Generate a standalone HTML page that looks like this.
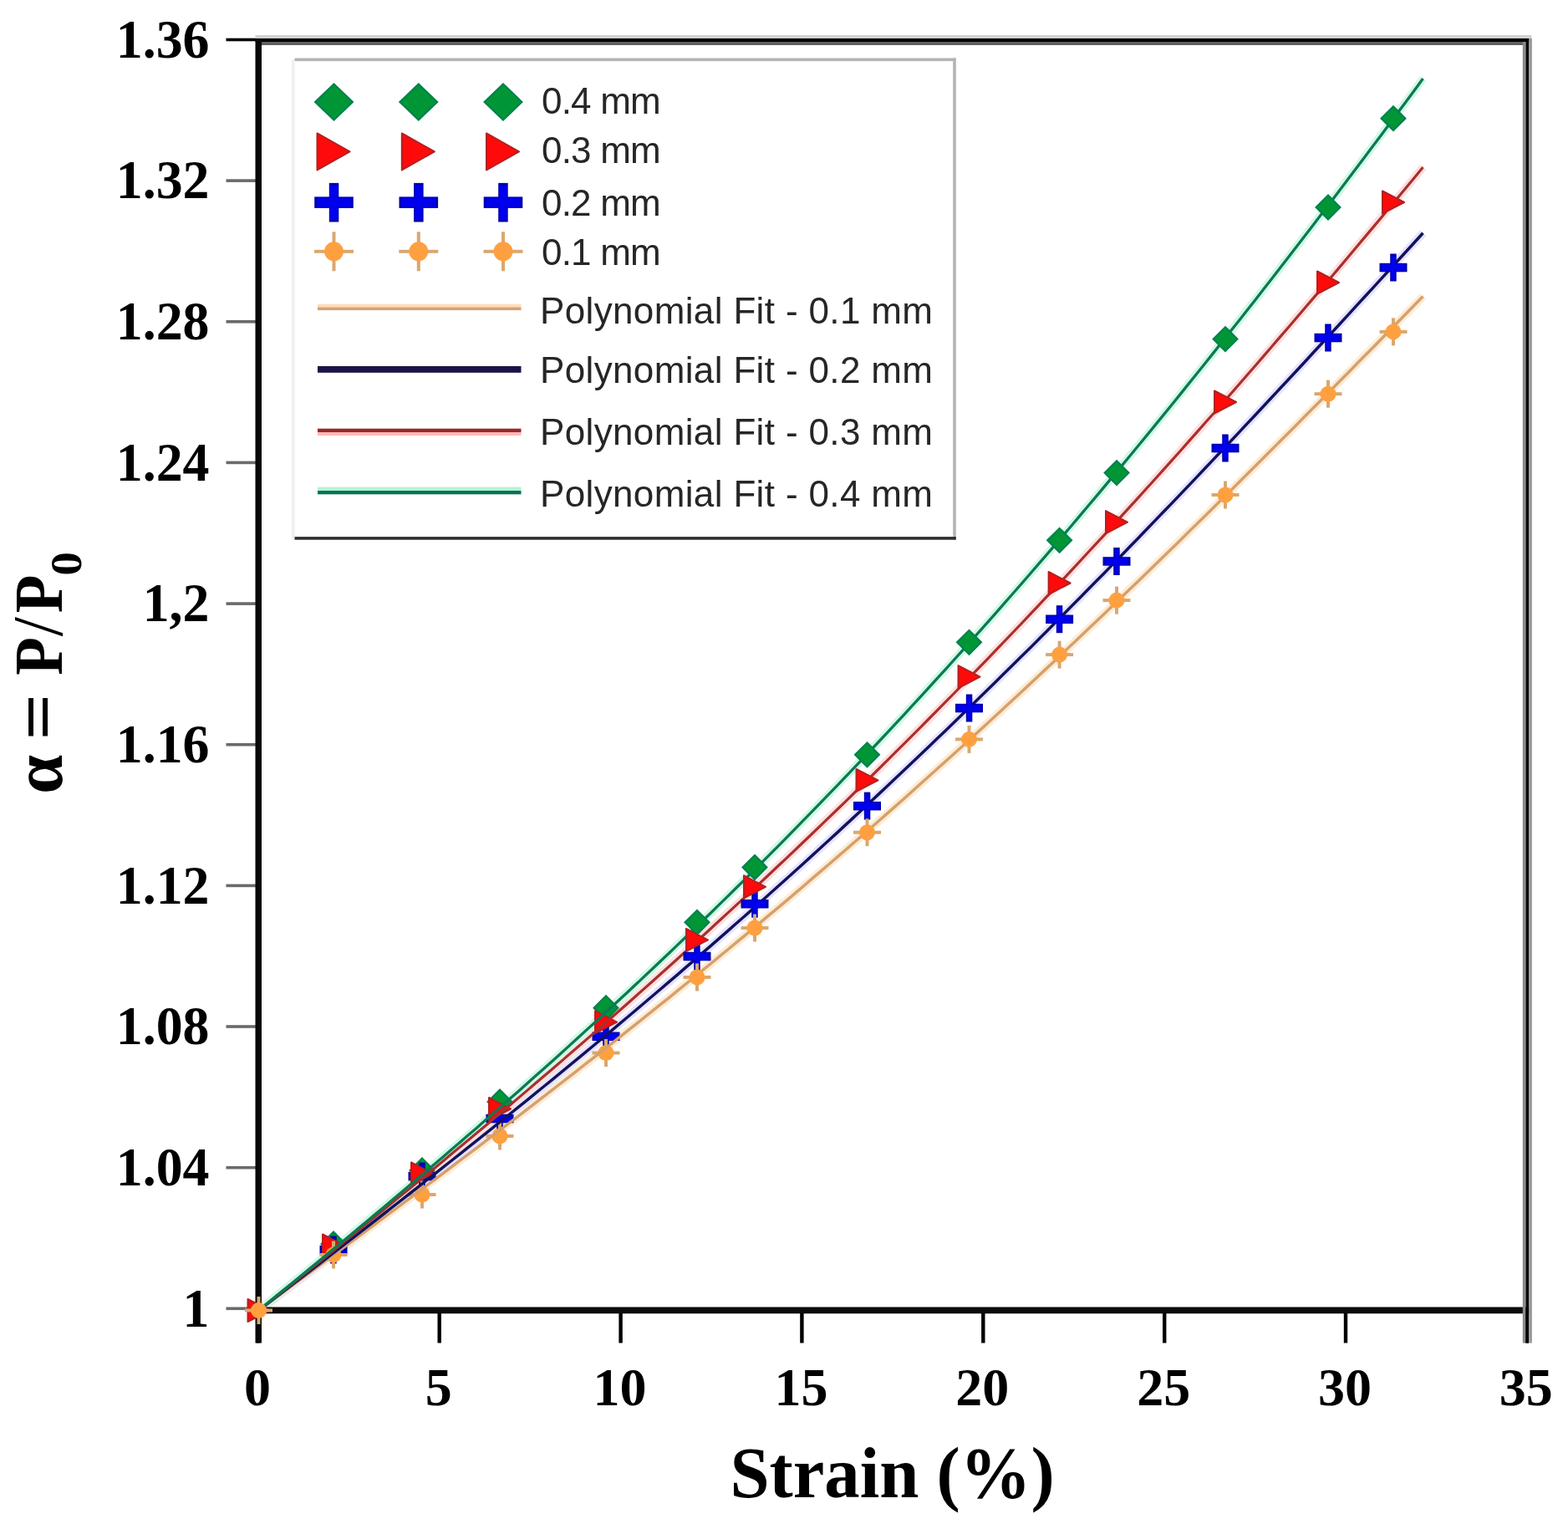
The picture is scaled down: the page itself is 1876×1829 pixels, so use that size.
<!DOCTYPE html>
<html><head><meta charset="utf-8"><title>Chart</title>
<style>html,body{margin:0;padding:0;background:#fff;overflow:hidden}svg{display:block}</style>
</head><body>
<svg width="1876" height="1829" viewBox="0 0 1876 1829"><rect width="1876" height="1829" fill="#fff"/>
<rect x="270.5" y="1563.5" width="36" height="3.6" fill="#6a6a6a"/>
<rect x="270.5" y="1394.9" width="36" height="3.6" fill="#6a6a6a"/>
<rect x="270.5" y="1226.2" width="36" height="3.6" fill="#6a6a6a"/>
<rect x="270.5" y="1057.6" width="36" height="3.6" fill="#6a6a6a"/>
<rect x="270.5" y="888.9" width="36" height="3.6" fill="#6a6a6a"/>
<rect x="270.5" y="720.3" width="36" height="3.6" fill="#6a6a6a"/>
<rect x="270.5" y="551.6" width="36" height="3.6" fill="#6a6a6a"/>
<rect x="270.5" y="383.0" width="36" height="3.6" fill="#6a6a6a"/>
<rect x="270.5" y="214.3" width="36" height="3.6" fill="#6a6a6a"/>
<rect x="270.5" y="45.7" width="36" height="3.6" fill="#000"/>
<rect x="306.7" y="1568" width="4.4" height="38.5" fill="#000"/>
<rect x="523.5" y="1568" width="4.4" height="38.5" fill="#000"/>
<rect x="740.4" y="1568" width="4.4" height="38.5" fill="#000"/>
<rect x="957.2" y="1568" width="4.4" height="38.5" fill="#000"/>
<rect x="1174.1" y="1568" width="4.4" height="38.5" fill="#000"/>
<rect x="1391.0" y="1568" width="4.4" height="38.5" fill="#000"/>
<rect x="1607.8" y="1568" width="4.4" height="38.5" fill="#000"/>
<rect x="1824.6" y="1568" width="4.4" height="38.5" fill="#000"/>
<g font-family="Liberation Serif, serif" font-weight="bold" font-size="64" fill="#000">
<text transform="translate(250.5,1586.5) scale(0.975,1)" font-size="65.5" text-anchor="end">1</text>
<text transform="translate(250.5,1417.9) scale(0.975,1)" font-size="65.5" text-anchor="end">1.04</text>
<text transform="translate(250.5,1249.2) scale(0.975,1)" font-size="65.5" text-anchor="end">1.08</text>
<text transform="translate(250.5,1080.6) scale(0.975,1)" font-size="65.5" text-anchor="end">1.12</text>
<text transform="translate(250.5,911.9) scale(0.975,1)" font-size="65.5" text-anchor="end">1.16</text>
<text transform="translate(250.5,743.3) scale(0.975,1)" font-size="65.5" text-anchor="end">1,2</text>
<text transform="translate(250.5,574.6) scale(0.975,1)" font-size="65.5" text-anchor="end">1.24</text>
<text transform="translate(250.5,406.0) scale(0.975,1)" font-size="65.5" text-anchor="end">1.28</text>
<text transform="translate(250.5,237.3) scale(0.975,1)" font-size="65.5" text-anchor="end">1.32</text>
<text transform="translate(250.5,68.7) scale(0.975,1)" font-size="65.5" text-anchor="end">1.36</text>
<text x="307.9" y="1681" text-anchor="middle">0</text>
<text x="524.8" y="1681" text-anchor="middle">5</text>
<text x="741.6" y="1681" text-anchor="middle">10</text>
<text x="958.4" y="1681" text-anchor="middle">15</text>
<text x="1175.3" y="1681" text-anchor="middle">20</text>
<text x="1392.2" y="1681" text-anchor="middle">25</text>
<text x="1609.0" y="1681" text-anchor="middle">30</text>
<text x="1825.8" y="1681" text-anchor="middle">35</text>
</g>
<text transform="translate(1067.5,1790.5) scale(0.985,1)" text-anchor="middle" font-family="Liberation Serif, serif" font-weight="bold" font-size="86">Strain (%)</text>
<g transform="translate(74.4,0) rotate(-90)" font-family="Liberation Serif, serif" font-weight="bold" text-anchor="middle">
<text transform="translate(-926.2,0)" font-size="84">α</text>
<text transform="translate(-857.6,0) scale(1.17,1)" font-size="84">=</text>
<text transform="translate(-785,0) scale(0.91,1)" font-size="82">P</text>
<text transform="translate(-749.7,0)" font-size="84" font-weight="normal">/</text>
<text transform="translate(-710.4,0) scale(0.91,1)" font-size="82">P</text>
<text transform="translate(-674.4,23) scale(1.1,1)" font-size="52">0</text>
</g>
<rect x="351" y="71.5" width="790.5" height="572.5" fill="#fff"/>
<rect x="349" y="71.5" width="3.5" height="574" fill="#efefef"/>
<rect x="352.5" y="69.5" width="791" height="3.6" fill="#b4b4b4"/>
<rect x="1140.2" y="69.5" width="3.6" height="576" fill="#b4b4b4"/>
<rect x="352.5" y="642.1" width="791.3" height="3.6" fill="#2e2e2e"/>
<path d="M377.0 122.0L399.5 100.5L422.0 122.0L399.5 143.5Z" fill="#009535" stroke="#00804f" stroke-width="2"/>
<path d="M478.3 122.0L500.8 100.5L523.3 122.0L500.8 143.5Z" fill="#009535" stroke="#00804f" stroke-width="2"/>
<path d="M579.5 122.0L602.0 100.5L624.5 122.0L602.0 143.5Z" fill="#009535" stroke="#00804f" stroke-width="2"/>
<path d="M379.5 159.4L418.5 181.4L379.5 203.4Z" fill="#ff0a0a" stroke="#b42020" stroke-width="2" stroke-linejoin="round"/>
<path d="M480.8 159.4L519.8 181.4L480.8 203.4Z" fill="#ff0a0a" stroke="#b42020" stroke-width="2" stroke-linejoin="round"/>
<path d="M582.0 159.4L621.0 181.4L582.0 203.4Z" fill="#ff0a0a" stroke="#b42020" stroke-width="2" stroke-linejoin="round"/>
<rect x="393.8" y="218.9" width="11.5" height="46.6" fill="#0000b0"/><rect x="376.2" y="235.4" width="46.6" height="13.5" fill="#0000b0"/><rect x="395.2" y="221.9" width="8.5" height="40.6" fill="#0000ee"/><rect x="379.2" y="236.9" width="40.6" height="10.5" fill="#0000ee"/>
<rect x="495.1" y="218.9" width="11.5" height="46.6" fill="#0000b0"/><rect x="477.5" y="235.4" width="46.6" height="13.5" fill="#0000b0"/><rect x="496.6" y="221.9" width="8.5" height="40.6" fill="#0000ee"/><rect x="480.5" y="236.9" width="40.6" height="10.5" fill="#0000ee"/>
<rect x="596.2" y="218.9" width="11.5" height="46.6" fill="#0000b0"/><rect x="578.7" y="235.4" width="46.6" height="13.5" fill="#0000b0"/><rect x="597.8" y="221.9" width="8.5" height="40.6" fill="#0000ee"/><rect x="581.7" y="236.9" width="40.6" height="10.5" fill="#0000ee"/>
<rect x="397.5" y="277.3" width="4" height="47.0" fill="#d8a870"/><rect x="376.0" y="298.8" width="47.0" height="4" fill="#d8a870"/><circle cx="399.5" cy="300.8" r="11.5" fill="#ffa040"/>
<rect x="498.8" y="277.3" width="4" height="47.0" fill="#d8a870"/><rect x="477.3" y="298.8" width="47.0" height="4" fill="#d8a870"/><circle cx="500.8" cy="300.8" r="11.5" fill="#ffa040"/>
<rect x="600.0" y="277.3" width="4" height="47.0" fill="#d8a870"/><rect x="578.5" y="298.8" width="47.0" height="4" fill="#d8a870"/><circle cx="602.0" cy="300.8" r="11.5" fill="#ffa040"/>
<g font-family="Liberation Sans, sans-serif" font-size="44" fill="#262626">
<text x="648" y="136.0" letter-spacing="-0.8">0.4 mm</text>
<text x="648" y="195.0" letter-spacing="-0.8">0.3 mm</text>
<text x="648" y="257.5" letter-spacing="-0.8">0.2 mm</text>
<text x="648" y="316.5" letter-spacing="-0.8">0.1 mm</text>
<text x="646" y="386.5" textLength="470" lengthAdjust="spacing">Polynomial Fit - 0.1 mm</text>
<text x="646" y="458" textLength="470" lengthAdjust="spacing">Polynomial Fit - 0.2 mm</text>
<text x="646" y="532" textLength="470" lengthAdjust="spacing">Polynomial Fit - 0.3 mm</text>
<text x="646" y="606" textLength="470" lengthAdjust="spacing">Polynomial Fit - 0.4 mm</text>
</g>
<rect x="380" y="363.7" width="243.5" height="3.8" fill="#fddcb8"/><rect x="380" y="367.5" width="243.5" height="3.6" fill="#d2a276"/>
<rect x="380" y="438" width="243.5" height="7.8" fill="#1a1448"/>
<rect x="380" y="512.7" width="243.5" height="4.3" fill="#962a2a"/><rect x="380" y="517" width="243.5" height="4" fill="#ffb8b8"/>
<rect x="380" y="582.6" width="243.5" height="4.4" fill="#b4f2d4"/><rect x="380" y="587" width="243.5" height="4.3" fill="#077352"/>
<polyline points="309.5,1567.5 319.5,1560.1 329.5,1552.7 339.6,1545.3 349.6,1537.9 359.6,1530.4 369.6,1523.0 379.7,1515.6 389.7,1508.2 399.7,1500.7 409.7,1493.3 419.7,1485.9 429.8,1478.4 439.8,1471.0 449.8,1463.5 459.8,1456.1 469.8,1448.6 479.9,1441.1 489.9,1433.6 499.9,1426.1 509.9,1418.6 520.0,1411.1 530.0,1403.6 540.0,1396.0 550.0,1388.4 560.0,1380.9 570.1,1373.3 580.1,1365.7 590.1,1358.0 600.1,1350.4 610.1,1342.7 620.2,1335.1 630.2,1327.4 640.2,1319.6 650.2,1311.9 660.3,1304.2 670.3,1296.4 680.3,1288.6 690.3,1280.8 700.3,1272.9 710.4,1265.1 720.4,1257.2 730.4,1249.3 740.4,1241.4 750.4,1233.4 760.5,1225.4 770.5,1217.4 780.5,1209.4 790.5,1201.3 800.6,1193.3 810.6,1185.2 820.6,1177.0 830.6,1168.9 840.6,1160.7 850.7,1152.5 860.7,1144.2 870.7,1136.0 880.7,1127.7 890.8,1119.4 900.8,1111.0 910.8,1102.6 920.8,1094.2 930.8,1085.8 940.9,1077.3 950.9,1068.8 960.9,1060.3 970.9,1051.7 980.9,1043.2 991.0,1034.5 1001.0,1025.9 1011.0,1017.2 1021.0,1008.5 1031.1,999.8 1041.1,991.0 1051.1,982.2 1061.1,973.4 1071.1,964.6 1081.2,955.7 1091.2,946.8 1101.2,937.8 1111.2,928.8 1121.2,919.8 1131.3,910.8 1141.3,901.7 1151.3,892.7 1161.3,883.5 1171.4,874.4 1181.4,865.2 1191.4,856.0 1201.4,846.8 1211.4,837.5 1221.5,828.2 1231.5,818.9 1241.5,809.5 1251.5,800.1 1261.6,790.7 1271.6,781.3 1281.6,771.8 1291.6,762.3 1301.6,752.8 1311.7,743.3 1321.7,733.7 1331.7,724.1 1341.7,714.5 1351.7,704.8 1361.8,695.2 1371.8,685.5 1381.8,675.7 1391.8,666.0 1401.9,656.2 1411.9,646.4 1421.9,636.6 1431.9,626.8 1441.9,616.9 1452.0,607.0 1462.0,597.1 1472.0,587.2 1482.0,577.3 1492.0,567.3 1502.1,557.3 1512.1,547.3 1522.1,537.3 1532.1,527.3 1542.2,517.2 1552.2,507.2 1562.2,497.1 1572.2,487.0 1582.2,476.9 1592.3,466.7 1602.3,456.6 1612.3,446.4 1622.3,436.3 1632.3,426.1 1642.4,415.9 1652.4,405.7 1662.4,395.5 1672.4,385.3 1682.5,375.1 1692.5,364.8 1702.5,354.6" fill="none" stroke="#fdecd6" stroke-width="10" stroke-linejoin="round"/>
<polyline points="309.5,1567.5 319.5,1559.8 329.5,1552.1 339.6,1544.4 349.6,1536.7 359.6,1529.0 369.6,1521.3 379.7,1513.6 389.7,1505.8 399.7,1498.1 409.7,1490.4 419.7,1482.6 429.8,1474.8 439.8,1467.1 449.8,1459.3 459.8,1451.5 469.8,1443.7 479.9,1435.8 489.9,1428.0 499.9,1420.1 509.9,1412.2 520.0,1404.4 530.0,1396.4 540.0,1388.5 550.0,1380.6 560.0,1372.6 570.1,1364.6 580.1,1356.6 590.1,1348.6 600.1,1340.5 610.1,1332.5 620.2,1324.4 630.2,1316.3 640.2,1308.1 650.2,1300.0 660.3,1291.8 670.3,1283.6 680.3,1275.4 690.3,1267.1 700.3,1258.8 710.4,1250.5 720.4,1242.2 730.4,1233.8 740.4,1225.4 750.4,1217.0 760.5,1208.5 770.5,1200.0 780.5,1191.5 790.5,1183.0 800.6,1174.4 810.6,1165.8 820.6,1157.2 830.6,1148.6 840.6,1139.9 850.7,1131.2 860.7,1122.4 870.7,1113.6 880.7,1104.8 890.8,1096.0 900.8,1087.1 910.8,1078.2 920.8,1069.3 930.8,1060.3 940.9,1051.3 950.9,1042.3 960.9,1033.2 970.9,1024.1 980.9,1015.0 991.0,1005.8 1001.0,996.6 1011.0,987.4 1021.0,978.1 1031.1,968.8 1041.1,959.5 1051.1,950.1 1061.1,940.7 1071.1,931.3 1081.2,921.8 1091.2,912.3 1101.2,902.8 1111.2,893.2 1121.2,883.6 1131.3,874.0 1141.3,864.3 1151.3,854.6 1161.3,844.9 1171.4,835.1 1181.4,825.3 1191.4,815.5 1201.4,805.6 1211.4,795.7 1221.5,785.8 1231.5,775.9 1241.5,765.9 1251.5,755.9 1261.6,745.8 1271.6,735.7 1281.6,725.6 1291.6,715.5 1301.6,705.3 1311.7,695.1 1321.7,684.9 1331.7,674.6 1341.7,664.4 1351.7,654.0 1361.8,643.7 1371.8,633.3 1381.8,622.9 1391.8,612.5 1401.9,602.1 1411.9,591.6 1421.9,581.1 1431.9,570.6 1441.9,560.0 1452.0,549.4 1462.0,538.8 1472.0,528.2 1482.0,517.6 1492.0,506.9 1502.1,496.2 1512.1,485.5 1522.1,474.8 1532.1,464.0 1542.2,453.3 1552.2,442.5 1562.2,431.7 1572.2,420.8 1582.2,410.0 1592.3,399.1 1602.3,388.2 1612.3,377.4 1622.3,366.4 1632.3,355.5 1642.4,344.6 1652.4,333.6 1662.4,322.7 1672.4,311.7 1682.5,300.7 1692.5,289.7 1702.5,278.7" fill="none" stroke="#e6e4ff" stroke-width="10" stroke-linejoin="round"/>
<polyline points="309.5,1567.5 319.5,1559.5 329.5,1551.5 339.6,1543.5 349.6,1535.5 359.6,1527.5 369.6,1519.4 379.7,1511.4 389.7,1503.3 399.7,1495.2 409.7,1487.1 419.7,1479.0 429.8,1470.9 439.8,1462.8 449.8,1454.7 459.8,1446.5 469.8,1438.3 479.9,1430.1 489.9,1421.9 499.9,1413.7 509.9,1405.5 520.0,1397.2 530.0,1388.9 540.0,1380.6 550.0,1372.3 560.0,1363.9 570.1,1355.6 580.1,1347.2 590.1,1338.8 600.1,1330.3 610.1,1321.9 620.2,1313.4 630.2,1304.9 640.2,1296.3 650.2,1287.8 660.3,1279.2 670.3,1270.6 680.3,1261.9 690.3,1253.3 700.3,1244.6 710.4,1235.9 720.4,1227.1 730.4,1218.3 740.4,1209.5 750.4,1200.7 760.5,1191.8 770.5,1182.9 780.5,1174.0 790.5,1165.0 800.6,1156.0 810.6,1147.0 820.6,1137.9 830.6,1128.8 840.6,1119.7 850.7,1110.5 860.7,1101.3 870.7,1092.1 880.7,1082.9 890.8,1073.6 900.8,1064.2 910.8,1054.9 920.8,1045.5 930.8,1036.0 940.9,1026.6 950.9,1017.1 960.9,1007.5 970.9,998.0 980.9,988.3 991.0,978.7 1001.0,969.0 1011.0,959.3 1021.0,949.5 1031.1,939.7 1041.1,929.9 1051.1,920.0 1061.1,910.1 1071.1,900.2 1081.2,890.2 1091.2,880.2 1101.2,870.1 1111.2,860.0 1121.2,849.9 1131.3,839.7 1141.3,829.5 1151.3,819.3 1161.3,809.0 1171.4,798.7 1181.4,788.3 1191.4,777.9 1201.4,767.5 1211.4,757.0 1221.5,746.5 1231.5,735.9 1241.5,725.4 1251.5,714.7 1261.6,704.1 1271.6,693.4 1281.6,682.6 1291.6,671.9 1301.6,661.0 1311.7,650.2 1321.7,639.3 1331.7,628.4 1341.7,617.4 1351.7,606.4 1361.8,595.4 1371.8,584.3 1381.8,573.2 1391.8,562.1 1401.9,550.9 1411.9,539.7 1421.9,528.4 1431.9,517.1 1441.9,505.8 1452.0,494.5 1462.0,483.1 1472.0,471.7 1482.0,460.2 1492.0,448.7 1502.1,437.2 1512.1,425.6 1522.1,414.0 1532.1,402.4 1542.2,390.7 1552.2,379.0 1562.2,367.3 1572.2,355.6 1582.2,343.8 1592.3,332.0 1602.3,320.1 1612.3,308.2 1622.3,296.3 1632.3,284.4 1642.4,272.4 1652.4,260.4 1662.4,248.4 1672.4,236.4 1682.5,224.3 1692.5,212.2 1702.5,200.0" fill="none" stroke="#fde0e0" stroke-width="10" stroke-linejoin="round"/>
<polyline points="309.5,1567.4 319.5,1559.3 329.5,1551.1 339.6,1542.9 349.6,1534.7 359.6,1526.5 369.6,1518.3 379.7,1510.0 389.7,1501.8 399.7,1493.5 409.7,1485.2 419.7,1476.9 429.8,1468.6 439.8,1460.2 449.8,1451.8 459.8,1443.4 469.8,1435.0 479.9,1426.6 489.9,1418.1 499.9,1409.6 509.9,1401.1 520.0,1392.5 530.0,1383.9 540.0,1375.3 550.0,1366.7 560.0,1358.0 570.1,1349.4 580.1,1340.6 590.1,1331.9 600.1,1323.1 610.1,1314.3 620.2,1305.4 630.2,1296.5 640.2,1287.6 650.2,1278.7 660.3,1269.7 670.3,1260.7 680.3,1251.6 690.3,1242.5 700.3,1233.4 710.4,1224.2 720.4,1215.0 730.4,1205.8 740.4,1196.5 750.4,1187.2 760.5,1177.8 770.5,1168.4 780.5,1159.0 790.5,1149.5 800.6,1140.0 810.6,1130.4 820.6,1120.8 830.6,1111.2 840.6,1101.5 850.7,1091.7 860.7,1081.9 870.7,1072.1 880.7,1062.3 890.8,1052.3 900.8,1042.4 910.8,1032.4 920.8,1022.3 930.8,1012.3 940.9,1002.1 950.9,991.9 960.9,981.7 970.9,971.4 980.9,961.1 991.0,950.7 1001.0,940.3 1011.0,929.9 1021.0,919.4 1031.1,908.8 1041.1,898.2 1051.1,887.5 1061.1,876.8 1071.1,866.1 1081.2,855.3 1091.2,844.4 1101.2,833.6 1111.2,822.6 1121.2,811.6 1131.3,800.6 1141.3,789.5 1151.3,778.4 1161.3,767.2 1171.4,755.9 1181.4,744.7 1191.4,733.3 1201.4,721.9 1211.4,710.5 1221.5,699.0 1231.5,687.5 1241.5,675.9 1251.5,664.3 1261.6,652.7 1271.6,640.9 1281.6,629.2 1291.6,617.4 1301.6,605.5 1311.7,593.6 1321.7,581.6 1331.7,569.6 1341.7,557.6 1351.7,545.5 1361.8,533.3 1371.8,521.1 1381.8,508.9 1391.8,496.6 1401.9,484.3 1411.9,471.9 1421.9,459.4 1431.9,447.0 1441.9,434.5 1452.0,421.9 1462.0,409.3 1472.0,396.6 1482.0,383.9 1492.0,371.2 1502.1,358.4 1512.1,345.6 1522.1,332.7 1532.1,319.8 1542.2,306.8 1552.2,293.8 1562.2,280.8 1572.2,267.7 1582.2,254.6 1592.3,241.4 1602.3,228.2 1612.3,215.0 1622.3,201.7 1632.3,188.4 1642.4,175.1 1652.4,161.7 1662.4,148.2 1672.4,134.8 1682.5,121.3 1692.5,107.7 1702.5,94.1" fill="none" stroke="#d2f9e6" stroke-width="10" stroke-linejoin="round"/>
<rect x="305.5" y="42" width="1527" height="4" fill="#d2d2d2"/>
<rect x="305.5" y="46" width="1524" height="4" fill="#000"/>
<rect x="313" y="50" width="1509" height="4" fill="#5f5f5f"/>
<rect x="305.5" y="46" width="7.5" height="1560.5" fill="#080808"/>
<rect x="305.5" y="1563.5" width="1524" height="7.8" fill="#0c0c0c"/>
<rect x="1821.8" y="50" width="3.7" height="1556.5" fill="#8a8a8a"/>
<rect x="1825.5" y="46" width="3.7" height="1560.5" fill="#000"/>
<rect x="1829.2" y="46" width="3.7" height="1560.5" fill="#9a9a9a"/>
<path d="M384.5 1488.0L399.0 1473.5L413.5 1488.0L399.0 1502.5Z" fill="#009535" stroke="#00804f" stroke-width="2"/>
<path d="M490.5 1400.0L505.0 1385.5L519.5 1400.0L505.0 1414.5Z" fill="#009535" stroke="#00804f" stroke-width="2"/>
<path d="M583.5 1318.0L598.0 1303.5L612.5 1318.0L598.0 1332.5Z" fill="#009535" stroke="#00804f" stroke-width="2"/>
<path d="M710.5 1205.7L725.0 1191.2L739.5 1205.7L725.0 1220.2Z" fill="#009535" stroke="#00804f" stroke-width="2"/>
<rect x="395.2" y="1478.5" width="7.5" height="33.0" fill="#0000b0"/><rect x="382.5" y="1489.8" width="33.0" height="10.5" fill="#0000b0"/><rect x="396.8" y="1481.5" width="4.5" height="27.0" fill="#0000ee"/><rect x="385.5" y="1491.2" width="27.0" height="7.5" fill="#0000ee"/>
<rect x="501.2" y="1390.5" width="7.5" height="33.0" fill="#0000b0"/><rect x="488.5" y="1401.8" width="33.0" height="10.5" fill="#0000b0"/><rect x="502.8" y="1393.5" width="4.5" height="27.0" fill="#0000ee"/><rect x="491.5" y="1403.2" width="27.0" height="7.5" fill="#0000ee"/>
<rect x="594.2" y="1321.5" width="7.5" height="33.0" fill="#0000b0"/><rect x="581.5" y="1332.8" width="33.0" height="10.5" fill="#0000b0"/><rect x="595.8" y="1324.5" width="4.5" height="27.0" fill="#0000ee"/><rect x="584.5" y="1334.2" width="27.0" height="7.5" fill="#0000ee"/>
<rect x="721.2" y="1223.3" width="7.5" height="33.0" fill="#0000b0"/><rect x="708.5" y="1234.5" width="33.0" height="10.5" fill="#0000b0"/><rect x="722.8" y="1226.3" width="4.5" height="27.0" fill="#0000ee"/><rect x="711.5" y="1236.0" width="27.0" height="7.5" fill="#0000ee"/>
<path d="M386.0 1476.5L412.0 1490.0L386.0 1503.5Z" fill="#ff0a0a" stroke="#b42020" stroke-width="2" stroke-linejoin="round"/>
<path d="M492.0 1390.5L518.0 1404.0L492.0 1417.5Z" fill="#ff0a0a" stroke="#b42020" stroke-width="2" stroke-linejoin="round"/>
<path d="M585.0 1313.0L611.0 1326.5L585.0 1340.0Z" fill="#ff0a0a" stroke="#b42020" stroke-width="2" stroke-linejoin="round"/>
<path d="M712.0 1209.2L738.0 1222.7L712.0 1236.2Z" fill="#ff0a0a" stroke="#b42020" stroke-width="2" stroke-linejoin="round"/>
<rect x="397.0" y="1484.5" width="4" height="33.0" fill="#d8a870"/><rect x="382.5" y="1499.0" width="33.0" height="4" fill="#d8a870"/><circle cx="399.0" cy="1501.0" r="9.5" fill="#ffa040"/>
<rect x="503.0" y="1412.5" width="4" height="33.0" fill="#d8a870"/><rect x="488.5" y="1427.0" width="33.0" height="4" fill="#d8a870"/><circle cx="505.0" cy="1429.0" r="9.5" fill="#ffa040"/>
<rect x="596.0" y="1342.5" width="4" height="33.0" fill="#d8a870"/><rect x="581.5" y="1357.0" width="33.0" height="4" fill="#d8a870"/><circle cx="598.0" cy="1359.0" r="9.5" fill="#ffa040"/>
<rect x="723.0" y="1243.0" width="4" height="33.0" fill="#d8a870"/><rect x="708.5" y="1257.5" width="33.0" height="4" fill="#d8a870"/><circle cx="725.0" cy="1259.5" r="9.5" fill="#ffa040"/>
<polyline points="309.5,1567.5 319.5,1560.1 329.5,1552.7 339.6,1545.3 349.6,1537.9 359.6,1530.4 369.6,1523.0 379.7,1515.6 389.7,1508.2 399.7,1500.7 409.7,1493.3 419.7,1485.9 429.8,1478.4 439.8,1471.0 449.8,1463.5 459.8,1456.1 469.8,1448.6 479.9,1441.1 489.9,1433.6 499.9,1426.1 509.9,1418.6 520.0,1411.1 530.0,1403.6 540.0,1396.0 550.0,1388.4 560.0,1380.9 570.1,1373.3 580.1,1365.7 590.1,1358.0 600.1,1350.4 610.1,1342.7 620.2,1335.1 630.2,1327.4 640.2,1319.6 650.2,1311.9 660.3,1304.2 670.3,1296.4 680.3,1288.6 690.3,1280.8 700.3,1272.9 710.4,1265.1 720.4,1257.2 730.4,1249.3 740.4,1241.4 750.4,1233.4 760.5,1225.4 770.5,1217.4 780.5,1209.4 790.5,1201.3 800.6,1193.3 810.6,1185.2 820.6,1177.0 830.6,1168.9 840.6,1160.7 850.7,1152.5 860.7,1144.2 870.7,1136.0 880.7,1127.7 890.8,1119.4 900.8,1111.0 910.8,1102.6 920.8,1094.2 930.8,1085.8 940.9,1077.3 950.9,1068.8 960.9,1060.3 970.9,1051.7 980.9,1043.2 991.0,1034.5 1001.0,1025.9 1011.0,1017.2 1021.0,1008.5 1031.1,999.8 1041.1,991.0 1051.1,982.2 1061.1,973.4 1071.1,964.6 1081.2,955.7 1091.2,946.8 1101.2,937.8 1111.2,928.8 1121.2,919.8 1131.3,910.8 1141.3,901.7 1151.3,892.7 1161.3,883.5 1171.4,874.4 1181.4,865.2 1191.4,856.0 1201.4,846.8 1211.4,837.5 1221.5,828.2 1231.5,818.9 1241.5,809.5 1251.5,800.1 1261.6,790.7 1271.6,781.3 1281.6,771.8 1291.6,762.3 1301.6,752.8 1311.7,743.3 1321.7,733.7 1331.7,724.1 1341.7,714.5 1351.7,704.8 1361.8,695.2 1371.8,685.5 1381.8,675.7 1391.8,666.0 1401.9,656.2 1411.9,646.4 1421.9,636.6 1431.9,626.8 1441.9,616.9 1452.0,607.0 1462.0,597.1 1472.0,587.2 1482.0,577.3 1492.0,567.3 1502.1,557.3 1512.1,547.3 1522.1,537.3 1532.1,527.3 1542.2,517.2 1552.2,507.2 1562.2,497.1 1572.2,487.0 1582.2,476.9 1592.3,466.7 1602.3,456.6 1612.3,446.4 1622.3,436.3 1632.3,426.1 1642.4,415.9 1652.4,405.7 1662.4,395.5 1672.4,385.3 1682.5,375.1 1692.5,364.8 1702.5,354.6" fill="none" stroke="#d6a06c" stroke-width="3.5" stroke-linejoin="round"/>
<polyline points="309.5,1567.5 319.5,1559.8 329.5,1552.1 339.6,1544.4 349.6,1536.7 359.6,1529.0 369.6,1521.3 379.7,1513.6 389.7,1505.8 399.7,1498.1 409.7,1490.4 419.7,1482.6 429.8,1474.8 439.8,1467.1 449.8,1459.3 459.8,1451.5 469.8,1443.7 479.9,1435.8 489.9,1428.0 499.9,1420.1 509.9,1412.2 520.0,1404.4 530.0,1396.4 540.0,1388.5 550.0,1380.6 560.0,1372.6 570.1,1364.6 580.1,1356.6 590.1,1348.6 600.1,1340.5 610.1,1332.5 620.2,1324.4 630.2,1316.3 640.2,1308.1 650.2,1300.0 660.3,1291.8 670.3,1283.6 680.3,1275.4 690.3,1267.1 700.3,1258.8 710.4,1250.5 720.4,1242.2 730.4,1233.8 740.4,1225.4 750.4,1217.0 760.5,1208.5 770.5,1200.0 780.5,1191.5 790.5,1183.0 800.6,1174.4 810.6,1165.8 820.6,1157.2 830.6,1148.6 840.6,1139.9 850.7,1131.2 860.7,1122.4 870.7,1113.6 880.7,1104.8 890.8,1096.0 900.8,1087.1 910.8,1078.2 920.8,1069.3 930.8,1060.3 940.9,1051.3 950.9,1042.3 960.9,1033.2 970.9,1024.1 980.9,1015.0 991.0,1005.8 1001.0,996.6 1011.0,987.4 1021.0,978.1 1031.1,968.8 1041.1,959.5 1051.1,950.1 1061.1,940.7 1071.1,931.3 1081.2,921.8 1091.2,912.3 1101.2,902.8 1111.2,893.2 1121.2,883.6 1131.3,874.0 1141.3,864.3 1151.3,854.6 1161.3,844.9 1171.4,835.1 1181.4,825.3 1191.4,815.5 1201.4,805.6 1211.4,795.7 1221.5,785.8 1231.5,775.9 1241.5,765.9 1251.5,755.9 1261.6,745.8 1271.6,735.7 1281.6,725.6 1291.6,715.5 1301.6,705.3 1311.7,695.1 1321.7,684.9 1331.7,674.6 1341.7,664.4 1351.7,654.0 1361.8,643.7 1371.8,633.3 1381.8,622.9 1391.8,612.5 1401.9,602.1 1411.9,591.6 1421.9,581.1 1431.9,570.6 1441.9,560.0 1452.0,549.4 1462.0,538.8 1472.0,528.2 1482.0,517.6 1492.0,506.9 1502.1,496.2 1512.1,485.5 1522.1,474.8 1532.1,464.0 1542.2,453.3 1552.2,442.5 1562.2,431.7 1572.2,420.8 1582.2,410.0 1592.3,399.1 1602.3,388.2 1612.3,377.4 1622.3,366.4 1632.3,355.5 1642.4,344.6 1652.4,333.6 1662.4,322.7 1672.4,311.7 1682.5,300.7 1692.5,289.7 1702.5,278.7" fill="none" stroke="#12125e" stroke-width="3.5" stroke-linejoin="round"/>
<polyline points="309.5,1567.5 319.5,1559.5 329.5,1551.5 339.6,1543.5 349.6,1535.5 359.6,1527.5 369.6,1519.4 379.7,1511.4 389.7,1503.3 399.7,1495.2 409.7,1487.1 419.7,1479.0 429.8,1470.9 439.8,1462.8 449.8,1454.7 459.8,1446.5 469.8,1438.3 479.9,1430.1 489.9,1421.9 499.9,1413.7 509.9,1405.5 520.0,1397.2 530.0,1388.9 540.0,1380.6 550.0,1372.3 560.0,1363.9 570.1,1355.6 580.1,1347.2 590.1,1338.8 600.1,1330.3 610.1,1321.9 620.2,1313.4 630.2,1304.9 640.2,1296.3 650.2,1287.8 660.3,1279.2 670.3,1270.6 680.3,1261.9 690.3,1253.3 700.3,1244.6 710.4,1235.9 720.4,1227.1 730.4,1218.3 740.4,1209.5 750.4,1200.7 760.5,1191.8 770.5,1182.9 780.5,1174.0 790.5,1165.0 800.6,1156.0 810.6,1147.0 820.6,1137.9 830.6,1128.8 840.6,1119.7 850.7,1110.5 860.7,1101.3 870.7,1092.1 880.7,1082.9 890.8,1073.6 900.8,1064.2 910.8,1054.9 920.8,1045.5 930.8,1036.0 940.9,1026.6 950.9,1017.1 960.9,1007.5 970.9,998.0 980.9,988.3 991.0,978.7 1001.0,969.0 1011.0,959.3 1021.0,949.5 1031.1,939.7 1041.1,929.9 1051.1,920.0 1061.1,910.1 1071.1,900.2 1081.2,890.2 1091.2,880.2 1101.2,870.1 1111.2,860.0 1121.2,849.9 1131.3,839.7 1141.3,829.5 1151.3,819.3 1161.3,809.0 1171.4,798.7 1181.4,788.3 1191.4,777.9 1201.4,767.5 1211.4,757.0 1221.5,746.5 1231.5,735.9 1241.5,725.4 1251.5,714.7 1261.6,704.1 1271.6,693.4 1281.6,682.6 1291.6,671.9 1301.6,661.0 1311.7,650.2 1321.7,639.3 1331.7,628.4 1341.7,617.4 1351.7,606.4 1361.8,595.4 1371.8,584.3 1381.8,573.2 1391.8,562.1 1401.9,550.9 1411.9,539.7 1421.9,528.4 1431.9,517.1 1441.9,505.8 1452.0,494.5 1462.0,483.1 1472.0,471.7 1482.0,460.2 1492.0,448.7 1502.1,437.2 1512.1,425.6 1522.1,414.0 1532.1,402.4 1542.2,390.7 1552.2,379.0 1562.2,367.3 1572.2,355.6 1582.2,343.8 1592.3,332.0 1602.3,320.1 1612.3,308.2 1622.3,296.3 1632.3,284.4 1642.4,272.4 1652.4,260.4 1662.4,248.4 1672.4,236.4 1682.5,224.3 1692.5,212.2 1702.5,200.0" fill="none" stroke="#a8302e" stroke-width="3.2" stroke-linejoin="round"/>
<polyline points="309.5,1567.4 319.5,1559.3 329.5,1551.1 339.6,1542.9 349.6,1534.7 359.6,1526.5 369.6,1518.3 379.7,1510.0 389.7,1501.8 399.7,1493.5 409.7,1485.2 419.7,1476.9 429.8,1468.6 439.8,1460.2 449.8,1451.8 459.8,1443.4 469.8,1435.0 479.9,1426.6 489.9,1418.1 499.9,1409.6 509.9,1401.1 520.0,1392.5 530.0,1383.9 540.0,1375.3 550.0,1366.7 560.0,1358.0 570.1,1349.4 580.1,1340.6 590.1,1331.9 600.1,1323.1 610.1,1314.3 620.2,1305.4 630.2,1296.5 640.2,1287.6 650.2,1278.7 660.3,1269.7 670.3,1260.7 680.3,1251.6 690.3,1242.5 700.3,1233.4 710.4,1224.2 720.4,1215.0 730.4,1205.8 740.4,1196.5 750.4,1187.2 760.5,1177.8 770.5,1168.4 780.5,1159.0 790.5,1149.5 800.6,1140.0 810.6,1130.4 820.6,1120.8 830.6,1111.2 840.6,1101.5 850.7,1091.7 860.7,1081.9 870.7,1072.1 880.7,1062.3 890.8,1052.3 900.8,1042.4 910.8,1032.4 920.8,1022.3 930.8,1012.3 940.9,1002.1 950.9,991.9 960.9,981.7 970.9,971.4 980.9,961.1 991.0,950.7 1001.0,940.3 1011.0,929.9 1021.0,919.4 1031.1,908.8 1041.1,898.2 1051.1,887.5 1061.1,876.8 1071.1,866.1 1081.2,855.3 1091.2,844.4 1101.2,833.6 1111.2,822.6 1121.2,811.6 1131.3,800.6 1141.3,789.5 1151.3,778.4 1161.3,767.2 1171.4,755.9 1181.4,744.7 1191.4,733.3 1201.4,721.9 1211.4,710.5 1221.5,699.0 1231.5,687.5 1241.5,675.9 1251.5,664.3 1261.6,652.7 1271.6,640.9 1281.6,629.2 1291.6,617.4 1301.6,605.5 1311.7,593.6 1321.7,581.6 1331.7,569.6 1341.7,557.6 1351.7,545.5 1361.8,533.3 1371.8,521.1 1381.8,508.9 1391.8,496.6 1401.9,484.3 1411.9,471.9 1421.9,459.4 1431.9,447.0 1441.9,434.5 1452.0,421.9 1462.0,409.3 1472.0,396.6 1482.0,383.9 1492.0,371.2 1502.1,358.4 1512.1,345.6 1522.1,332.7 1532.1,319.8 1542.2,306.8 1552.2,293.8 1562.2,280.8 1572.2,267.7 1582.2,254.6 1592.3,241.4 1602.3,228.2 1612.3,215.0 1622.3,201.7 1632.3,188.4 1642.4,175.1 1652.4,161.7 1662.4,148.2 1672.4,134.8 1682.5,121.3 1692.5,107.7 1702.5,94.1" fill="none" stroke="#0b7a52" stroke-width="3.3" stroke-linejoin="round"/>
<path d="M819.5 1103.3L834.0 1088.8L848.5 1103.3L834.0 1117.8Z" fill="#009535" stroke="#00804f" stroke-width="2"/>
<path d="M888.5 1037.5L903.0 1023.0L917.5 1037.5L903.0 1052.0Z" fill="#009535" stroke="#00804f" stroke-width="2"/>
<path d="M1023.0 902.8L1037.5 888.3L1052.0 902.8L1037.5 917.3Z" fill="#009535" stroke="#00804f" stroke-width="2"/>
<path d="M1145.0 768.3L1159.5 753.8L1174.0 768.3L1159.5 782.8Z" fill="#009535" stroke="#00804f" stroke-width="2"/>
<path d="M1253.1 646.3L1267.6 631.8L1282.1 646.3L1267.6 660.8Z" fill="#009535" stroke="#00804f" stroke-width="2"/>
<path d="M1321.5 565.6L1336.0 551.1L1350.5 565.6L1336.0 580.1Z" fill="#009535" stroke="#00804f" stroke-width="2"/>
<path d="M1451.5 405.6L1466.0 391.1L1480.5 405.6L1466.0 420.1Z" fill="#009535" stroke="#00804f" stroke-width="2"/>
<path d="M1574.5 248.0L1589.0 233.5L1603.5 248.0L1589.0 262.5Z" fill="#009535" stroke="#00804f" stroke-width="2"/>
<path d="M1652.5 141.7L1667.0 127.2L1681.5 141.7L1667.0 156.2Z" fill="#009535" stroke="#00804f" stroke-width="2"/>
<rect x="830.2" y="1127.5" width="7.5" height="33.0" fill="#0000b0"/><rect x="817.5" y="1138.8" width="33.0" height="10.5" fill="#0000b0"/><rect x="831.8" y="1130.5" width="4.5" height="27.0" fill="#0000ee"/><rect x="820.5" y="1140.2" width="27.0" height="7.5" fill="#0000ee"/>
<rect x="899.2" y="1064.7" width="7.5" height="33.0" fill="#0000b0"/><rect x="886.5" y="1076.0" width="33.0" height="10.5" fill="#0000b0"/><rect x="900.8" y="1067.7" width="4.5" height="27.0" fill="#0000ee"/><rect x="889.5" y="1077.5" width="27.0" height="7.5" fill="#0000ee"/>
<rect x="1033.8" y="947.6" width="7.5" height="33.0" fill="#0000b0"/><rect x="1021.0" y="958.9" width="33.0" height="10.5" fill="#0000b0"/><rect x="1035.2" y="950.6" width="4.5" height="27.0" fill="#0000ee"/><rect x="1024.0" y="960.4" width="27.0" height="7.5" fill="#0000ee"/>
<rect x="1155.8" y="830.5" width="7.5" height="33.0" fill="#0000b0"/><rect x="1143.0" y="841.8" width="33.0" height="10.5" fill="#0000b0"/><rect x="1157.2" y="833.5" width="4.5" height="27.0" fill="#0000ee"/><rect x="1146.0" y="843.2" width="27.0" height="7.5" fill="#0000ee"/>
<rect x="1263.8" y="724.2" width="7.5" height="33.0" fill="#0000b0"/><rect x="1251.1" y="735.5" width="33.0" height="10.5" fill="#0000b0"/><rect x="1265.3" y="727.2" width="4.5" height="27.0" fill="#0000ee"/><rect x="1254.1" y="737.0" width="27.0" height="7.5" fill="#0000ee"/>
<rect x="1332.2" y="655.0" width="7.5" height="33.0" fill="#0000b0"/><rect x="1319.5" y="666.2" width="33.0" height="10.5" fill="#0000b0"/><rect x="1333.8" y="658.0" width="4.5" height="27.0" fill="#0000ee"/><rect x="1322.5" y="667.8" width="27.0" height="7.5" fill="#0000ee"/>
<rect x="1462.2" y="519.5" width="7.5" height="33.0" fill="#0000b0"/><rect x="1449.5" y="530.8" width="33.0" height="10.5" fill="#0000b0"/><rect x="1463.8" y="522.5" width="4.5" height="27.0" fill="#0000ee"/><rect x="1452.5" y="532.2" width="27.0" height="7.5" fill="#0000ee"/>
<rect x="1585.2" y="387.5" width="7.5" height="33.0" fill="#0000b0"/><rect x="1572.5" y="398.8" width="33.0" height="10.5" fill="#0000b0"/><rect x="1586.8" y="390.5" width="4.5" height="27.0" fill="#0000ee"/><rect x="1575.5" y="400.2" width="27.0" height="7.5" fill="#0000ee"/>
<rect x="1663.2" y="303.5" width="7.5" height="33.0" fill="#0000b0"/><rect x="1650.5" y="314.8" width="33.0" height="10.5" fill="#0000b0"/><rect x="1664.8" y="306.5" width="4.5" height="27.0" fill="#0000ee"/><rect x="1653.5" y="316.2" width="27.0" height="7.5" fill="#0000ee"/>
<path d="M296.5 1554.0L322.5 1567.5L296.5 1581.0Z" fill="#ff0a0a" stroke="#b42020" stroke-width="2" stroke-linejoin="round"/>
<path d="M821.0 1110.8L847.0 1124.3L821.0 1137.8Z" fill="#ff0a0a" stroke="#b42020" stroke-width="2" stroke-linejoin="round"/>
<path d="M890.0 1047.3L916.0 1060.8L890.0 1074.3Z" fill="#ff0a0a" stroke="#b42020" stroke-width="2" stroke-linejoin="round"/>
<path d="M1024.5 919.9L1050.5 933.4L1024.5 946.9Z" fill="#ff0a0a" stroke="#b42020" stroke-width="2" stroke-linejoin="round"/>
<path d="M1146.5 796.1L1172.5 809.6L1146.5 823.1Z" fill="#ff0a0a" stroke="#b42020" stroke-width="2" stroke-linejoin="round"/>
<path d="M1254.6 684.0L1280.6 697.5L1254.6 711.0Z" fill="#ff0a0a" stroke="#b42020" stroke-width="2" stroke-linejoin="round"/>
<path d="M1323.0 611.1L1349.0 624.6L1323.0 638.1Z" fill="#ff0a0a" stroke="#b42020" stroke-width="2" stroke-linejoin="round"/>
<path d="M1453.0 467.5L1479.0 481.0L1453.0 494.5Z" fill="#ff0a0a" stroke="#b42020" stroke-width="2" stroke-linejoin="round"/>
<path d="M1576.0 324.5L1602.0 338.0L1576.0 351.5Z" fill="#ff0a0a" stroke="#b42020" stroke-width="2" stroke-linejoin="round"/>
<path d="M1654.0 228.5L1680.0 242.0L1654.0 255.5Z" fill="#ff0a0a" stroke="#b42020" stroke-width="2" stroke-linejoin="round"/>
<rect x="307.5" y="1551.0" width="4" height="33.0" fill="#d8a870"/><rect x="293.0" y="1565.5" width="33.0" height="4" fill="#d8a870"/><circle cx="309.5" cy="1567.5" r="9.5" fill="#ffa040"/>
<rect x="832.0" y="1152.5" width="4" height="33.0" fill="#d8a870"/><rect x="817.5" y="1167.0" width="33.0" height="4" fill="#d8a870"/><circle cx="834.0" cy="1169.0" r="9.5" fill="#ffa040"/>
<rect x="901.0" y="1093.5" width="4" height="33.0" fill="#d8a870"/><rect x="886.5" y="1108.0" width="33.0" height="4" fill="#d8a870"/><circle cx="903.0" cy="1110.0" r="9.5" fill="#ffa040"/>
<rect x="1035.5" y="979.2" width="4" height="33.0" fill="#d8a870"/><rect x="1021.0" y="993.7" width="33.0" height="4" fill="#d8a870"/><circle cx="1037.5" cy="995.7" r="9.5" fill="#ffa040"/>
<rect x="1157.5" y="867.9" width="4" height="33.0" fill="#d8a870"/><rect x="1143.0" y="882.4" width="33.0" height="4" fill="#d8a870"/><circle cx="1159.5" cy="884.4" r="9.5" fill="#ffa040"/>
<rect x="1265.6" y="766.6" width="4" height="33.0" fill="#d8a870"/><rect x="1251.1" y="781.1" width="33.0" height="4" fill="#d8a870"/><circle cx="1267.6" cy="783.1" r="9.5" fill="#ffa040"/>
<rect x="1334.0" y="701.6" width="4" height="33.0" fill="#d8a870"/><rect x="1319.5" y="716.1" width="33.0" height="4" fill="#d8a870"/><circle cx="1336.0" cy="718.1" r="9.5" fill="#ffa040"/>
<rect x="1464.0" y="575.5" width="4" height="33.0" fill="#d8a870"/><rect x="1449.5" y="590.0" width="33.0" height="4" fill="#d8a870"/><circle cx="1466.0" cy="592.0" r="9.5" fill="#ffa040"/>
<rect x="1587.0" y="454.7" width="4" height="33.0" fill="#d8a870"/><rect x="1572.5" y="469.2" width="33.0" height="4" fill="#d8a870"/><circle cx="1589.0" cy="471.2" r="9.5" fill="#ffa040"/>
<rect x="1665.0" y="380.4" width="4" height="33.0" fill="#d8a870"/><rect x="1650.5" y="394.9" width="33.0" height="4" fill="#d8a870"/><circle cx="1667.0" cy="396.9" r="9.5" fill="#ffa040"/></svg>
</body></html>
